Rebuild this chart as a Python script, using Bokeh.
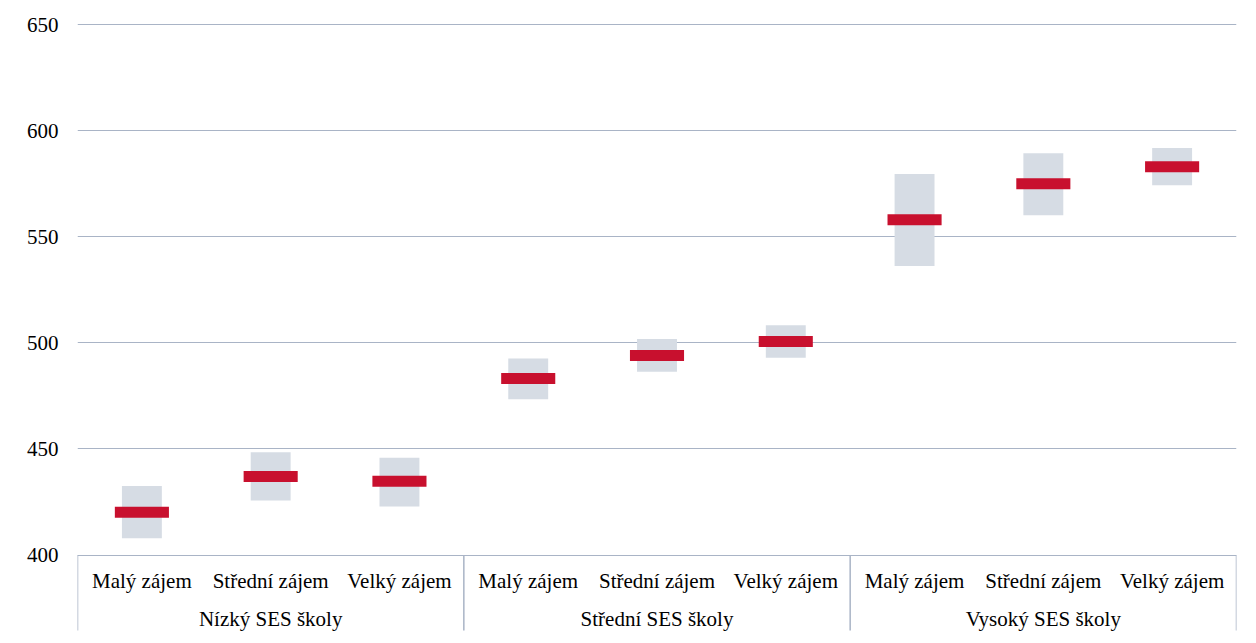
from bokeh.plotting import figure
from bokeh.models import FactorRange, Range1d, FixedTicker, ColumnDataSource
from bokeh.core.properties import value
from bokeh.embed import file_html
from bokeh.resources import INLINE

# ---- data ----
groups = ["Nízký SES školy", "Střední SES školy", "Vysoký SES školy"]
levels = ["Malý zájem", "Střední zájem", "Velký zájem"]
means = [420.1, 437.0, 434.7, 483.2, 494.0, 500.6, 558.0, 575.0, 583.0]
lows = [407.9, 425.7, 422.9, 473.4, 486.3, 493.0, 536.2, 560.1, 574.2]
highs = [432.5, 448.4, 445.8, 492.6, 501.8, 508.3, 579.5, 589.3, 591.8]
y_ticks = [400, 450, 500, 550, 600, 650]

FONT_NAME = "'Liberation Serif', 'Times New Roman', 'DejaVu Serif', serif"
FONT = value(FONT_NAME)
GRID = "#A9B4C6"
BOX = "#D6DCE4"
RED = "#C8102E"

factors = [(g, l) for g in groups for l in levels]

# vertical layout (pixels)
top_border = 22
top_pad_px = 2
plot_px = 530.5
below_px = 85.5
sep_px = 75.5
frame_px = top_pad_px + plot_px + below_px
fig_h = 640

y_min, y_max = y_ticks[0], y_ticks[-1]
upp = (y_max - y_min) / plot_px
y_start = y_min - below_px * upp
y_end = y_max + top_pad_px * upp
sep_end = y_min - sep_px * upp

x_range = FactorRange(factors=factors, range_padding=0, group_padding=0,
                      factor_padding=0, subgroup_padding=0)

p = figure(width=1250, height=fig_h, x_range=x_range,
           y_range=Range1d(y_start, y_end),
           output_backend="svg", toolbar_location=None,
           x_axis_location=None,
           min_border_left=77, min_border_right=14,
           min_border_top=top_border,
           min_border_bottom=int(round(fig_h - top_border - frame_px)))
p.outline_line_color = None
p.background_fill_color = "white"
p.border_fill_color = "white"

p.xgrid.visible = False
p.ygrid.ticker = FixedTicker(ticks=y_ticks)
p.ygrid.grid_line_color = GRID
p.ygrid.grid_line_width = 1

yax = p.yaxis[0]
yax.ticker = FixedTicker(ticks=y_ticks)
yax.axis_line_color = None
yax.major_tick_line_color = None
yax.minor_tick_line_color = None
yax.major_tick_in = 0
yax.major_tick_out = 0
yax.major_label_standoff = 19
yax.major_label_text_font = FONT_NAME
yax.major_label_text_font_size = "21px"
yax.major_label_text_color = "black"

src = ColumnDataSource(dict(x=factors, mean=means, lo=lows, hi=highs))

p.vbar(x="x", bottom="lo", top="hi", width=0.31, source=src,
       fill_color=BOX, line_color=None)
p.rect(x="x", y="mean", width=0.42, height=11, height_units="screen",
       source=src, fill_color=RED, line_color=None)

# category axis box (separators at group boundaries)
bounds = [0]
for g in groups:
    bounds.append(bounds[-1] + len(levels))
p.segment(x0=bounds, x1=bounds, y0=[y_min] * len(bounds),
          y1=[sep_end] * len(bounds), line_color=GRID, line_width=1.5)

# sub-category labels
p.text(x=factors, y=[y_min] * len(factors), text=[f[1] for f in factors],
       text_font=FONT, text_font_size="21px", text_color="black",
       text_align="center", text_baseline="alphabetic", y_offset=26)
# group labels
p.text(x=groups, y=[y_min] * len(groups), text=groups,
       text_font=FONT, text_font_size="21px", text_color="black",
       text_align="center", text_baseline="alphabetic", y_offset=64)

open("out.html", "w").write(file_html(p, INLINE))
